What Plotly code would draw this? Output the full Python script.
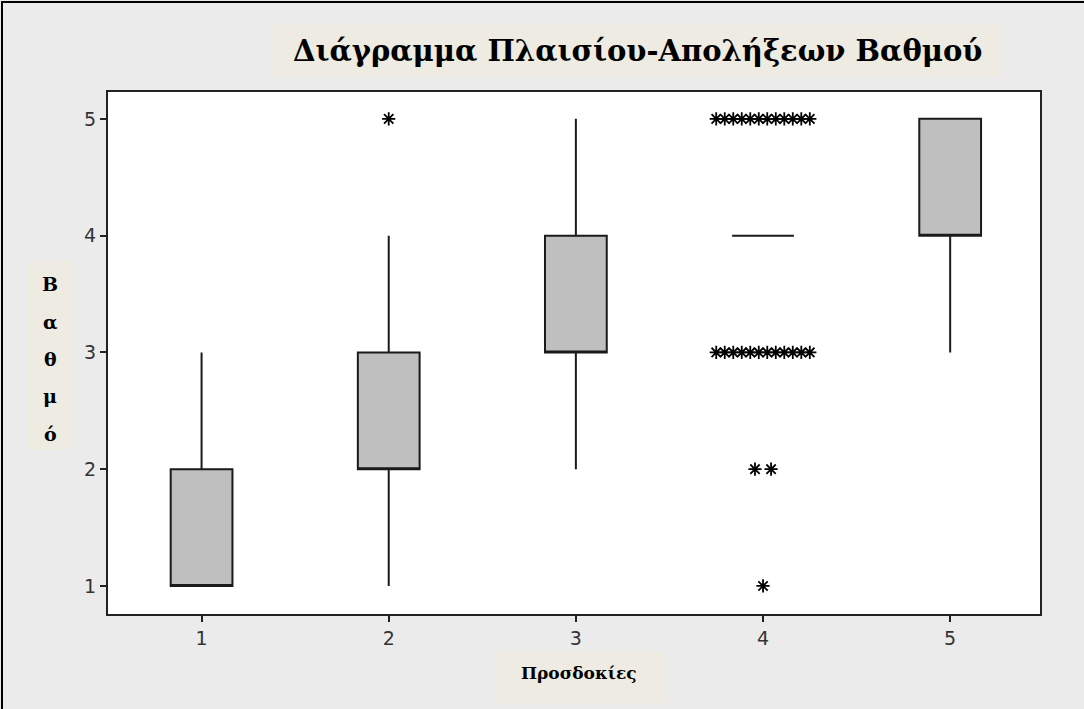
import plotly.graph_objects as go

# ---- data ----
groups = [1, 2, 3, 4, 5]
q1 = [1, 2, 3, 4, 4]
median = [1, 2, 3, 4, 4]
q3 = [2, 3, 4, 4, 5]
lower_fence = [1, 1, 2, 4, 3]
upper_fence = [3, 4, 5, 4, 5]

# outliers: (group, value, count)
outlier_group = [2, 4, 4, 4, 4]
outlier_value = [5, 5, 3, 2, 1]
outlier_count = [1, 12, 12, 2, 1]

title_text = "Διάγραμμα Πλαισίου-Απολήξεων Βαθμού"
xlabel_text = "Προσδοκίες"
ylabel_letters = ["Β", "α", "θ", "μ", "ό"]

W, H = 1084, 709
L, R, T, B = 108, 1040, 92, 614


def px(x, y):
    return (x - L) / (R - L), (B - y) / (B - T)


fig = go.Figure()
fig.add_trace(go.Box(
    x=groups, q1=q1, median=median, q3=q3,
    lowerfence=lower_fence, upperfence=upper_fence,
    boxpoints=False, width=0.33, whiskerwidth=0,
    fillcolor="#BFBFBF", line=dict(color="#1a1a1a", width=2),
    showlegend=False, hoverinfo="skip",
))

ox, oy = [], []
for g, v, n in zip(outlier_group, outlier_value, outlier_count):
    step = min(0.5 / (n - 1), 0.086) if n > 1 else 0
    for i in range(n):
        ox.append(g + step * (i - (n - 1) / 2))
        oy.append(v)
fig.add_trace(go.Scatter(
    x=ox, y=oy, mode="markers",
    marker=dict(symbol="asterisk-open", size=11, color="black",
                line=dict(color="black", width=1.8)),
    showlegend=False, hoverinfo="skip",
))

shapes = []
# outer border
x0, y1 = px(2, 2)
x1, y0 = px(W + 20, H + 20)
shapes.append(dict(type="rect", xref="paper", yref="paper", x0=x0, x1=x1, y0=y0, y1=y1,
                   line=dict(color="black", width=2), fillcolor="rgba(0,0,0,0)", layer="above"))
beige = "#EEEBE2"
for (ax0, ay0, ax1, ay1) in [(270, 23, 1002, 77), (27, 261, 72, 450), (495, 651, 664, 703)]:
    bx0, by1 = px(ax0, ay0)
    bx1, by0 = px(ax1, ay1)
    shapes.append(dict(type="rect", xref="paper", yref="paper", x0=bx0, x1=bx1, y0=by0, y1=by1,
                       line=dict(width=0), fillcolor=beige, layer="below"))

serif = "DejaVu Serif"
annotations = []
tx, ty = px(637, 51)
annotations.append(dict(text="<b>" + title_text + "</b>", x=tx, y=ty, xref="paper", yref="paper",
                        showarrow=False, font=dict(family=serif, size=29, color="black"),
                        xanchor="center", yanchor="middle"))
tx, ty = px(579, 673)
annotations.append(dict(text="<b>" + xlabel_text + "</b>", x=tx, y=ty, xref="paper", yref="paper",
                        showarrow=False, font=dict(family=serif, size=17, color="black"),
                        xanchor="center", yanchor="middle"))
for i, ch in enumerate(ylabel_letters):
    tx, ty = px(50, 284 + i * 37.5)
    annotations.append(dict(text="<b>" + ch + "</b>", x=tx, y=ty, xref="paper", yref="paper",
                            showarrow=False, font=dict(family=serif, size=19, color="black"),
                            xanchor="center", yanchor="middle"))

axis_common = dict(showgrid=False, zeroline=False, showline=True, mirror=True,
                   linecolor="#222", linewidth=2, ticks="outside", ticklen=6,
                   tickwidth=1.5, tickcolor="#222",
                   tickfont=dict(family="DejaVu Sans", size=19, color="#333"))

fig.update_layout(
    width=W, height=H,
    margin=dict(l=L, r=W - R, t=T, b=H - B),
    paper_bgcolor="#EBEBEB", plot_bgcolor="white",
    xaxis=dict(range=[0.5, 5.48], tickvals=groups, ticktext=[str(g) for g in groups], **axis_common),
    yaxis=dict(range=[0.76, 5.23], tickvals=[1, 2, 3, 4, 5], **axis_common),
    shapes=shapes, annotations=annotations,
)

fig.write_html("out.html", config={"displayModeBar": False},
               post_script="document.body.style.margin='0';")
